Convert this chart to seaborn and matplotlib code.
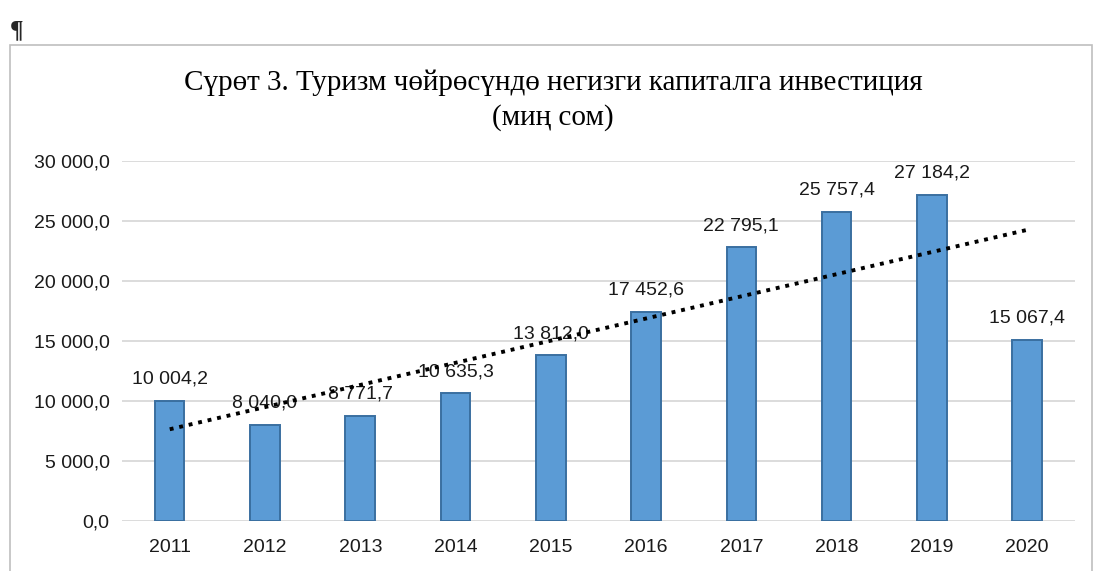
import numpy as np
import pandas as pd
import seaborn as sns
import matplotlib.pyplot as plt
from matplotlib.patches import Rectangle

# Данные (мин сом)
years = ['2011', '2012', '2013', '2014', '2015', '2016', '2017', '2018', '2019', '2020']
values = [10004.2, 8040.0, 8771.7, 10635.3, 13812.0, 17452.6, 22795.1, 25757.4, 27184.2, 15067.4]
yticks = [0, 5000, 10000, 15000, 20000, 25000, 30000]

title = 'Сүрөт 3. Туризм чөйрөсүндө негизги капиталга инвестиция\n(миң сом)'


def fmt(v):
    # 27184.2 -> "27 184,2"
    return f'{v:,.1f}'.replace(',', ' ').replace('.', ',')


df = pd.DataFrame({'year': years, 'value': values})

sns.set_theme(style='white')
plt.rcParams['font.family'] = ['Liberation Sans', 'DejaVu Sans']

fig = plt.figure(figsize=(11, 5.71), dpi=100)
ax = fig.add_axes([0.111, 0.0876, 0.866, 0.6304])

sns.barplot(data=df, x='year', y='value', color='#5B9BD5', width=0.31,
            saturation=1, edgecolor='#3A6FA0', linewidth=1.4, ax=ax, zorder=2)

# линейный тренд (как в Excel)
xs = np.arange(len(values))
k, b = np.polyfit(xs + 1, values, 1)
ax.plot(xs, k * (xs + 1) + b, linestyle=(0, (1, 1.5)), color='black',
        linewidth=2.8, zorder=4)

ax.bar_label(ax.containers[0], labels=[fmt(v) for v in values], padding=9.5,
             fontsize=14, color='#1a1a1a', zorder=3)

ax.set_ylim(0, 30000)
ax.set_xlim(-0.5, len(years) - 0.5)
ax.set_yticks(yticks)
ax.set_yticklabels([fmt(v) for v in yticks], fontsize=14, color='#1a1a1a')
ax.tick_params(axis='x', labelsize=14, colors='#1a1a1a', pad=13, length=0)
ax.tick_params(axis='y', pad=9, length=0)
ax.yaxis.grid(True, color='#D9D9D9', linewidth=1.3, zorder=0)
ax.set_axisbelow(True)
for s in ax.spines.values():
    s.set_visible(False)
ax.set_xlabel('')
ax.set_ylabel('')

fig.text(0.503, 0.825, title, ha='center', va='center', fontsize=21, color='black',
         family=['Liberation Serif', 'DejaVu Serif'], linespacing=1.38)

# рамка области диаграммы
fig.patches.append(Rectangle((0.009, -0.05), 0.984, 0.972, transform=fig.transFigure,
                             fill=False, edgecolor='#BFBFBF', linewidth=1.2))
fig.text(0.009, 0.935, '¶', fontsize=18, weight='bold', family='Liberation Serif')

fig.savefig('out.png', dpi=100)
